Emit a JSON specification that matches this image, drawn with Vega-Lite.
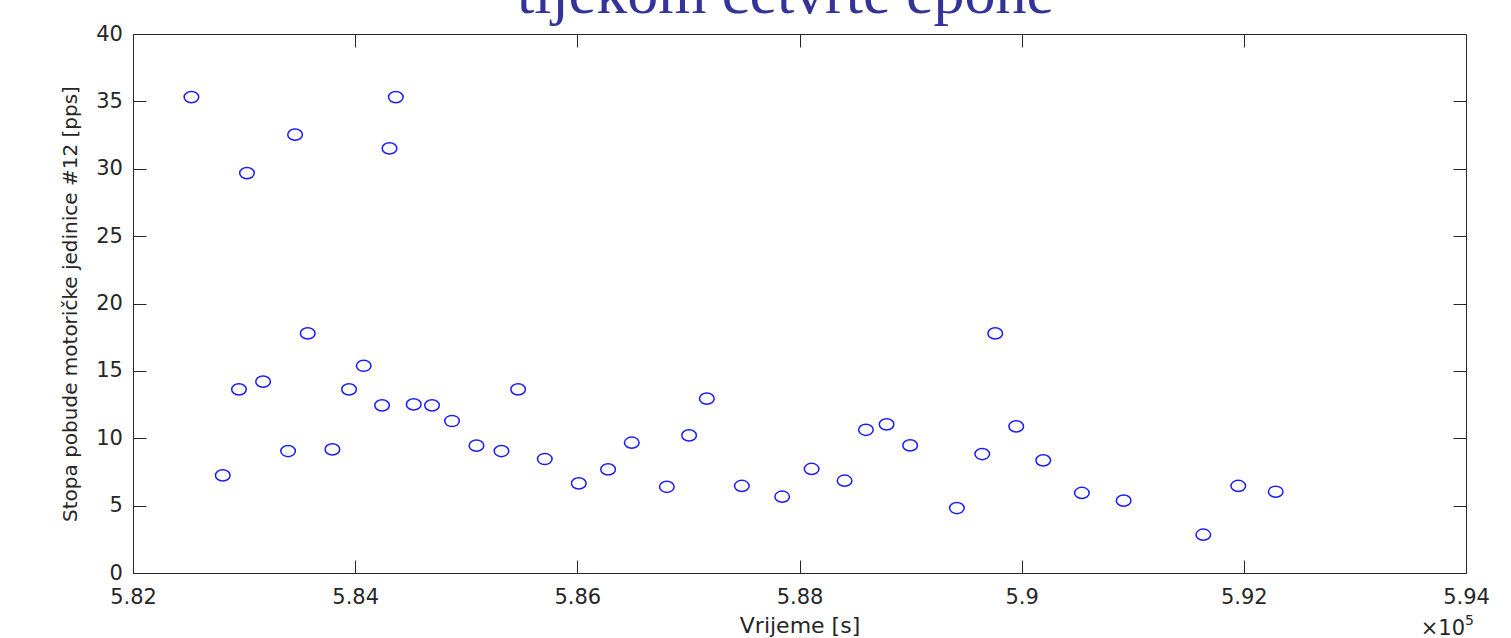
{
  "$schema": "https://vega.github.io/schema/vega-lite/v6.json",
  "width": 1333,
  "height": 539,
  "autosize": {"type": "none"},
  "padding": {"left": 133, "top": 34, "right": 45, "bottom": 65},
  "background": "white",
  "config": {
    "view": {"stroke": "#262626", "strokeWidth": 1},
    "axis": {
      "grid": false,
      "domain": false,
      "tickColor": "#262626",
      "tickWidth": 1,
      "tickSize": -13,
      "labelFont": "DejaVu Sans",
      "labelFontSize": 21,
      "labelColor": "#262626",
      "labelFlush": false,
      "labelOverlap": false,
      "titleFont": "DejaVu Sans",
      "titleFontWeight": "normal",
      "titleColor": "#262626"
    }
  },
  "data": {
    "values": [
      {"t": 582526, "rate": 35.32},
      {"t": 584366, "rate": 35.32},
      {"t": 583459, "rate": 32.53},
      {"t": 584309, "rate": 31.51},
      {"t": 583026, "rate": 29.68},
      {"t": 583573, "rate": 17.78},
      {"t": 584077, "rate": 15.38},
      {"t": 583171, "rate": 14.2},
      {"t": 582954, "rate": 13.63},
      {"t": 583945, "rate": 13.63},
      {"t": 584242, "rate": 12.44},
      {"t": 584527, "rate": 12.51},
      {"t": 584692, "rate": 12.44},
      {"t": 584872, "rate": 11.28},
      {"t": 583396, "rate": 9.05},
      {"t": 583795, "rate": 9.17},
      {"t": 582808, "rate": 7.24},
      {"t": 585467, "rate": 13.63},
      {"t": 587166, "rate": 12.94},
      {"t": 585092, "rate": 9.45},
      {"t": 585317, "rate": 9.05},
      {"t": 585707, "rate": 8.46},
      {"t": 586490, "rate": 9.67},
      {"t": 587006, "rate": 10.21},
      {"t": 586277, "rate": 7.69},
      {"t": 586013, "rate": 6.65},
      {"t": 586806, "rate": 6.4},
      {"t": 587481, "rate": 6.46},
      {"t": 589762, "rate": 17.78},
      {"t": 588598, "rate": 10.63},
      {"t": 588784, "rate": 11.03},
      {"t": 588996, "rate": 9.47},
      {"t": 589951, "rate": 10.88},
      {"t": 589645, "rate": 8.83},
      {"t": 590194, "rate": 8.36},
      {"t": 588109, "rate": 7.72},
      {"t": 588406, "rate": 6.85},
      {"t": 587844, "rate": 5.66},
      {"t": 589417, "rate": 4.82},
      {"t": 590542, "rate": 5.94},
      {"t": 590918, "rate": 5.37},
      {"t": 591950, "rate": 6.46},
      {"t": 592287, "rate": 6.03},
      {"t": 591635, "rate": 2.84}
    ]
  },
  "layer": [
    {
      "mark": {
        "type": "point",
        "shape": "M -1 0 A 1 0.77 0 1 1 1 0 A 1 0.77 0 1 1 -1 0 Z",
        "size": 213,
        "filled": false,
        "stroke": "#1a1aff",
        "strokeWidth": 1.5,
        "opacity": 1
      },
      "encoding": {
        "x": {
          "field": "t",
          "type": "quantitative",
          "scale": {"domain": [582000, 594000], "nice": false, "zero": false},
          "axis": {
            "orient": "bottom",
            "values": [582000, 584000, 586000, 588000, 590000, 592000, 594000],
            "labelExpr": "format(datum.value / 100000, '.3~f')",
            "labelPadding": 26,
            "title": "Vrijeme [s]",
            "titleFontSize": 22,
            "titlePadding": 8
          }
        },
        "y": {
          "field": "rate",
          "type": "quantitative",
          "scale": {"domain": [0, 40], "nice": false, "zero": true},
          "axis": {
            "orient": "left",
            "values": [0, 5, 10, 15, 20, 25, 30, 35, 40],
            "labelPadding": 23.6,
            "title": "Stopa pobude motoričke jedinice #12 [pps]",
            "titleFontSize": 20,
            "titlePadding": 15
          }
        }
      }
    },
    {
      "data": {"values": [{"label": "×10"}]},
      "mark": {
        "type": "text",
        "font": "DejaVu Sans",
        "fontSize": 21,
        "color": "#262626",
        "align": "right",
        "baseline": "alphabetic",
        "dx": -1,
        "dy": 62
      },
      "encoding": {
        "text": {"field": "label", "type": "nominal"},
        "x": {
          "datum": 594000,
          "type": "quantitative",
          "axis": {
            "orient": "top",
            "values": [584000, 586000, 588000, 590000, 592000],
            "labels": false,
            "title": null
          }
        },
        "y": {
          "datum": 0,
          "type": "quantitative",
          "axis": {
            "orient": "right",
            "values": [5, 10, 15, 20, 25, 30, 35],
            "labels": false,
            "title": null
          }
        }
      }
    },
    {
      "data": {"values": [{"label": "5"}]},
      "mark": {
        "type": "text",
        "font": "DejaVu Sans",
        "fontSize": 14,
        "color": "#262626",
        "align": "left",
        "baseline": "alphabetic",
        "dx": -1,
        "dy": 52
      },
      "encoding": {
        "text": {"field": "label", "type": "nominal"},
        "x": {"datum": 594000, "type": "quantitative", "axis": null},
        "y": {"datum": 0, "type": "quantitative", "axis": null}
      }
    },
    {
      "data": {"values": [{"label": "tijekom četvrte epohe"}]},
      "mark": {
        "type": "text",
        "font": "Liberation Serif",
        "fontSize": 62,
        "color": "#333399",
        "align": "center",
        "baseline": "alphabetic",
        "dx": -14,
        "dy": -21
      },
      "encoding": {
        "text": {"field": "label", "type": "nominal"},
        "x": {"datum": 588000, "type": "quantitative", "axis": null},
        "y": {"datum": 40, "type": "quantitative", "axis": null}
      }
    }
  ],
  "resolve": {"axis": {"x": "independent", "y": "independent"}}
}
